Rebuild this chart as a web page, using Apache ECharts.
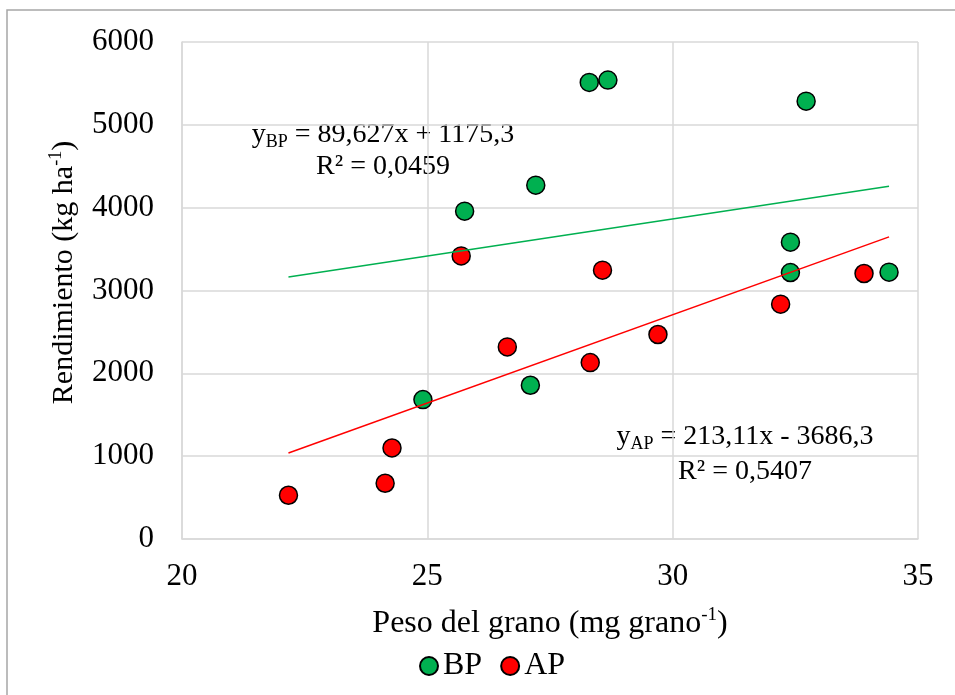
<!DOCTYPE html>
<html lang="es">
<head>
  <meta charset="UTF-8">
  <script src="https://cdn.jsdelivr.net/npm/echarts@6.0.0/dist/echarts.min.js"></script>
  <style>
    html, body { margin: 0; padding: 0; background: #fff; }
  </style>
</head>
<body>
  <div id="chart" style="width: 955px; height: 695px;"></div>

  <script type="text/javascript">
    // Peso del grano (mg grano-1) vs Rendimiento (kg ha-1)
    var bpX = [25.76, 27.21, 28.30, 28.68, 32.72, 32.40, 32.40, 34.41, 24.91, 27.10];
    var bpY = [3958, 4272, 5512, 5540, 5286, 3583, 3217, 3221, 1683, 1856];
    var apX = [25.69, 28.57, 33.90, 32.20, 29.70, 28.32, 26.63, 24.28, 24.14, 22.17];
    var apY = [3418, 3245, 3205, 2835, 2469, 2130, 2319, 1099, 673, 528];

    // trend line end points
    var bpTrendX = [22.17, 34.41];
    var bpTrendY = [3162, 4259];
    var apTrendX = [22.17, 34.41];
    var apTrendY = [1038, 3647];

    var xTicks = [20, 25, 30, 35];
    var yTicks = [0, 1000, 2000, 3000, 4000, 5000, 6000];

    var FONT = '"Liberation Serif", "Times New Roman", serif';
    var GREEN = '#00b050';
    var RED = '#ff0000';

    function pairs(xs, ys) {
      return xs.map(function (x, i) { return [x, ys[i]]; });
    }

    var chart = echarts.init(document.getElementById('chart'));

    var eqRich = {
      m: { fontFamily: FONT, fontSize: 28, color: '#000', lineHeight: 32 },
      s: { fontFamily: FONT, fontSize: 18, color: '#000', lineHeight: 32, verticalAlign: 'bottom' }
    };

    function titleRich(size) {
      return {
        m: { fontFamily: FONT, fontSize: size, color: '#000', lineHeight: size + 4 },
        s: { fontFamily: FONT, fontSize: Math.round(size * 0.6), color: '#000', lineHeight: size + 4, verticalAlign: 'top', padding: [0, 0, 6, 0] }
      };
    }

    var option = {
      backgroundColor: '#fff',
      animation: false,
      grid: {
        left: 182,
        right: 37,
        top: 42,
        bottom: 156
      },
      legend: {
        data: ['BP', 'AP'],
        left: 414,
        top: 645,
        icon: 'circle',
        itemWidth: 18,
        itemHeight: 18,
        itemGap: 18,
        textStyle: { fontFamily: FONT, fontSize: 32, color: '#000' }
      },
      xAxis: {
        type: 'value',
        min: xTicks[0],
        max: xTicks[xTicks.length - 1],
        interval: 5,
        name: '{m|Peso del grano (mg grano}{s|-1}{m|)}',
        nameLocation: 'middle',
        nameGap: 67,
        nameTextStyle: { rich: titleRich(32) },
        axisLine: { show: true, lineStyle: { color: '#d9d9d9', width: 1.5 } },
        axisTick: { show: false },
        axisLabel: { fontFamily: FONT, fontSize: 31, color: '#000', margin: 22 },
        splitLine: { show: true, lineStyle: { color: '#d9d9d9', width: 1.5 } }
      },
      yAxis: {
        type: 'value',
        min: yTicks[0],
        max: yTicks[yTicks.length - 1],
        interval: 1000,
        name: '{m|Rendimiento (kg ha}{s|-1}{m|)}',
        nameLocation: 'middle',
        nameRotate: 90,
        nameGap: 101,
        nameTextStyle: { rich: titleRich(30), padding: [0, 0, 0, 36] },
        axisLine: { show: true, lineStyle: { color: '#d9d9d9', width: 1.5 } },
        axisTick: { show: false },
        axisLabel: {
          fontFamily: FONT, fontSize: 31, color: '#000', margin: 28,
          formatter: function (v) { return String(v); }
        },
        splitLine: { show: true, lineStyle: { color: '#d9d9d9', width: 1.5 } }
      },
      series: [
        {
          name: 'BP',
          type: 'scatter',
          data: pairs(bpX, bpY),
          symbol: 'circle',
          symbolSize: 18,
          itemStyle: { color: GREEN, borderColor: '#000', borderWidth: 1.5, opacity: 1 },
          z: 2
        },
        {
          name: 'AP',
          type: 'scatter',
          data: pairs(apX, apY),
          symbol: 'circle',
          symbolSize: 18,
          itemStyle: { color: RED, borderColor: '#000', borderWidth: 1.5, opacity: 1 },
          z: 2
        },
        {
          name: 'BP trend',
          type: 'line',
          data: pairs(bpTrendX, bpTrendY),
          symbol: 'none',
          lineStyle: { color: GREEN, width: 1.5 },
          z: 3
        },
        {
          name: 'AP trend',
          type: 'line',
          data: pairs(apTrendX, apTrendY),
          symbol: 'none',
          lineStyle: { color: RED, width: 1.5 },
          z: 3
        }
      ],
      graphic: [
        {
          type: 'rect',
          shape: { x: 7, y: 10, width: 1000, height: 1000 },
          style: { fill: 'none', stroke: '#a6a6a6', lineWidth: 1.5 },
          silent: true
        },
        {
          type: 'text',
          x: 383, y: 135,
          style: {
            text: '{m|y}{s|BP}{m| = 89,627x + 1175,3}',
            align: 'center', verticalAlign: 'middle',
            rich: eqRich
          }
        },
        {
          type: 'text',
          x: 383, y: 167,
          style: {
            text: '{m|R² = 0,0459}',
            align: 'center', verticalAlign: 'middle',
            rich: eqRich
          }
        },
        {
          type: 'text',
          x: 745, y: 437,
          style: {
            text: '{m|y}{s|AP}{m| = 213,11x - 3686,3}',
            align: 'center', verticalAlign: 'middle',
            rich: eqRich
          }
        },
        {
          type: 'text',
          x: 745, y: 472,
          style: {
            text: '{m|R² = 0,5407}',
            align: 'center', verticalAlign: 'middle',
            rich: eqRich
          }
        }
      ]
    };

    chart.setOption(option);
  </script>
</body>
</html>
